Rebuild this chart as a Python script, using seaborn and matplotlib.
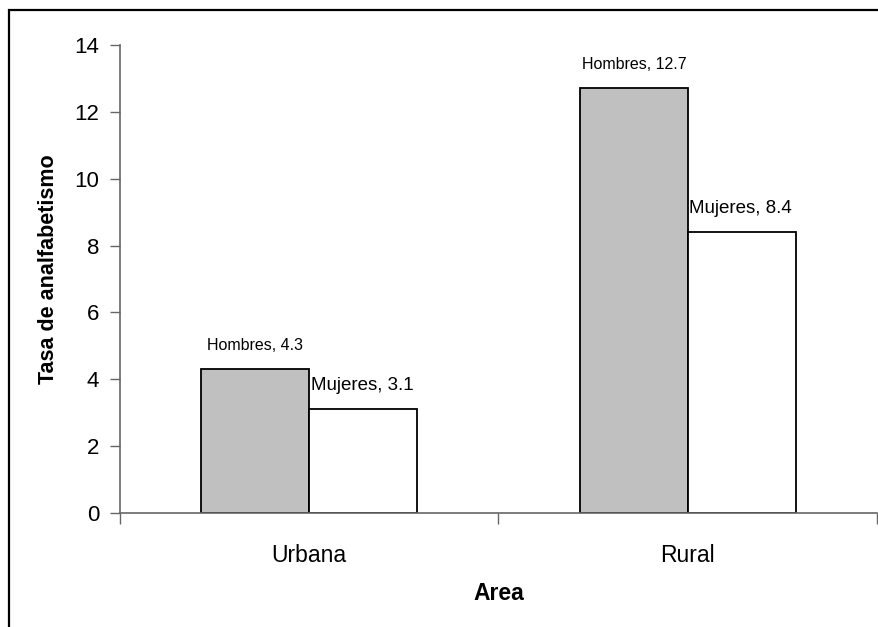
import matplotlib
matplotlib.use("Agg")
import matplotlib.pyplot as plt
import seaborn as sns
import pandas as pd
from matplotlib.patches import Rectangle

areas = ["Urbana", "Rural"]
sexos = ["Hombres", "Mujeres"]
hombres = [4.3, 12.7]
mujeres = [3.1, 8.4]
y_ticks = [0, 2, 4, 6, 8, 10, 12, 14]

df = pd.DataFrame({
    "Area": areas * 2,
    "Sexo": ["Hombres"] * len(areas) + ["Mujeres"] * len(areas),
    "Tasa": hombres + mujeres,
})

sns.set_theme(style="white")
plt.rcParams["font.family"] = ["Liberation Sans", "DejaVu Sans"]
plt.rcParams["text.color"] = "black"
plt.rcParams["axes.labelcolor"] = "black"
plt.rcParams["xtick.color"] = "black"
plt.rcParams["ytick.color"] = "black"

fig = plt.figure(figsize=(8.79, 6.27), dpi=100)
ax = fig.add_axes([120 / 879, (627 - 513) / 627, (877 - 120) / 879, (513 - 45) / 627])

sns.barplot(data=df, x="Area", y="Tasa", hue="Sexo", order=areas, hue_order=sexos,
            palette={"Hombres": "#C0C0C0", "Mujeres": "#FFFFFF"},
            width=0.57, edgecolor="black", linewidth=1.3, saturation=1,
            ax=ax, legend=False)

ax.set_xlim(-0.5, len(areas) - 0.5)
ax.set_ylim(0, 14)
ax.set_yticks(y_ticks)
ax.set_yticklabels([str(t) for t in y_ticks], fontsize=16, color="black")
ax.tick_params(axis="y", direction="out", length=7, width=1, color="#666666", pad=8, left=True)
ax.set_xticks(range(len(areas)))
ax.set_xticklabels(areas, fontsize=16.5, color="black")
ax.set_xticks([i - 0.5 for i in range(len(areas) + 1)], minor=True)
ax.tick_params(axis="x", which="major", length=0, pad=22)
ax.tick_params(axis="x", which="minor", direction="out", length=8, width=1, color="#666666", bottom=True)

for s in ["top", "right"]:
    ax.spines[s].set_visible(False)
for s in ["left", "bottom"]:
    ax.spines[s].set_color("#666666")
    ax.spines[s].set_linewidth(1.2)

ax.set_xlabel("Area", fontsize=16.5, fontweight="bold", labelpad=11, color="black")
ax.set_ylabel("Tasa de analfabetismo", fontsize=15.5, fontweight="bold", color="black")
ax.yaxis.set_label_coords(-0.081, 0.52)

# Data labels
for container, sexo in zip(ax.containers, sexos):
    for bar in container:
        h = bar.get_height()
        if sexo == "Hombres":
            ax.annotate(f"{sexo}, {h}", (bar.get_x() + bar.get_width() / 2, h),
                        xytext=(0, 12), textcoords="offset points",
                        ha="center", va="bottom", fontsize=11.5, color="black")
        else:
            ax.annotate(f"{sexo}, {h}", (bar.get_x(), h),
                        xytext=(1, 11), textcoords="offset points",
                        ha="left", va="bottom", fontsize=13.5, color="black")

# Outer chart frame
fig.patches.append(Rectangle((9 / 879, -0.05), 1.2, (627 - 10) / 627 + 0.05,
                             transform=fig.transFigure, fill=False,
                             edgecolor="black", linewidth=1.6, zorder=10))

fig.savefig("out.png", dpi=100)
